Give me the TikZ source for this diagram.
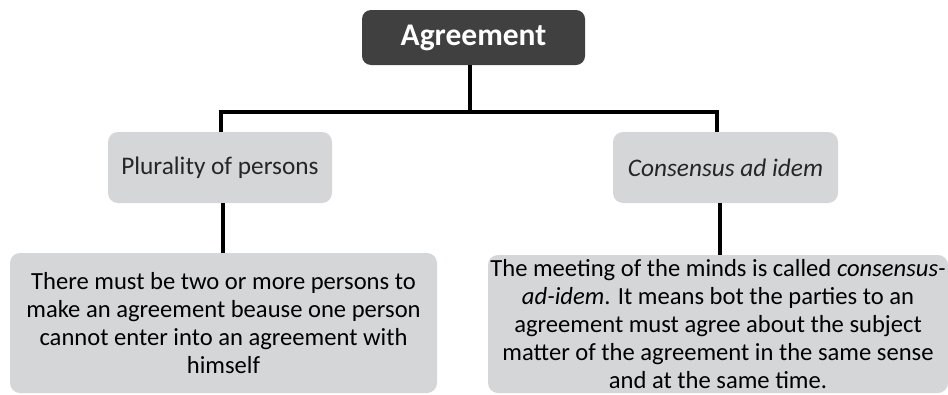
\documentclass[tikz,border=0pt]{standalone}
\usepackage{fontspec}
\setmainfont{Carlito}
\definecolor{darkbox}{HTML}{404040}
\definecolor{lightbox}{HTML}{D5D6D8}
\begin{document}
\begin{tikzpicture}[x=1pt,y=-1pt,
  titlebox/.style={fill=darkbox,rounded corners=9pt,text=white,font=\fontsize{31.5}{36}\selectfont\bfseries,inner sep=0pt},
  midbox/.style={fill=lightbox,rounded corners=10pt,text=black!85,font=\fontsize{25.3}{30}\selectfont,inner sep=0pt},
  lowbox/.style={fill=lightbox,rounded corners=10pt,text=black,font=\fontsize{24.6}{27.8}\selectfont,inner sep=0pt,align=center},
  conn/.style={draw=black,line width=4pt,line join=miter}]
\useasboundingbox (0,0) rectangle (948,394);
\node[titlebox,minimum width=223pt,minimum height=55pt] (agr) at (473.5,37.5) {Agreement};
\node[midbox,minimum width=224pt,minimum height=71pt] (plu) at (220,167.5) {Plurality of persons};
\node[midbox,minimum width=225pt,minimum height=71pt] (con) at (725.5,167.5) {\itshape Consensus ad idem};
\node[lowbox,minimum width=427pt,minimum height=140pt] (l) at (223.5,323) {There must be two or more persons to\\make an agreement beause one person\\cannot enter into an agreement with\\himself};
\node[lowbox,minimum width=460pt,minimum height=138pt] (r) at (718,324) {The meeting of the minds is called \textit{consensus-}\\\textit{ad-idem}. It means bot the parties to an\\agreement must agree about the subject\\matter of the agreement in the same sense\\and at the same time.};
\coordinate (hub) at (470,112);
\coordinate (lt) at (221,112);
\coordinate (rt) at (717,112);
\coordinate (lb) at (223,0);
\coordinate (rb) at (720,0);
\draw[conn] (agr.south -| hub) -- (hub);
\draw[conn] (plu.north -| lt) -- (lt) -- (rt) -- (rt |- con.north);
\draw[conn] (plu.south -| lb) -- (l.north -| lb);
\draw[conn] (con.south -| rb) -- (r.north -| rb);
\end{tikzpicture}
\end{document}
